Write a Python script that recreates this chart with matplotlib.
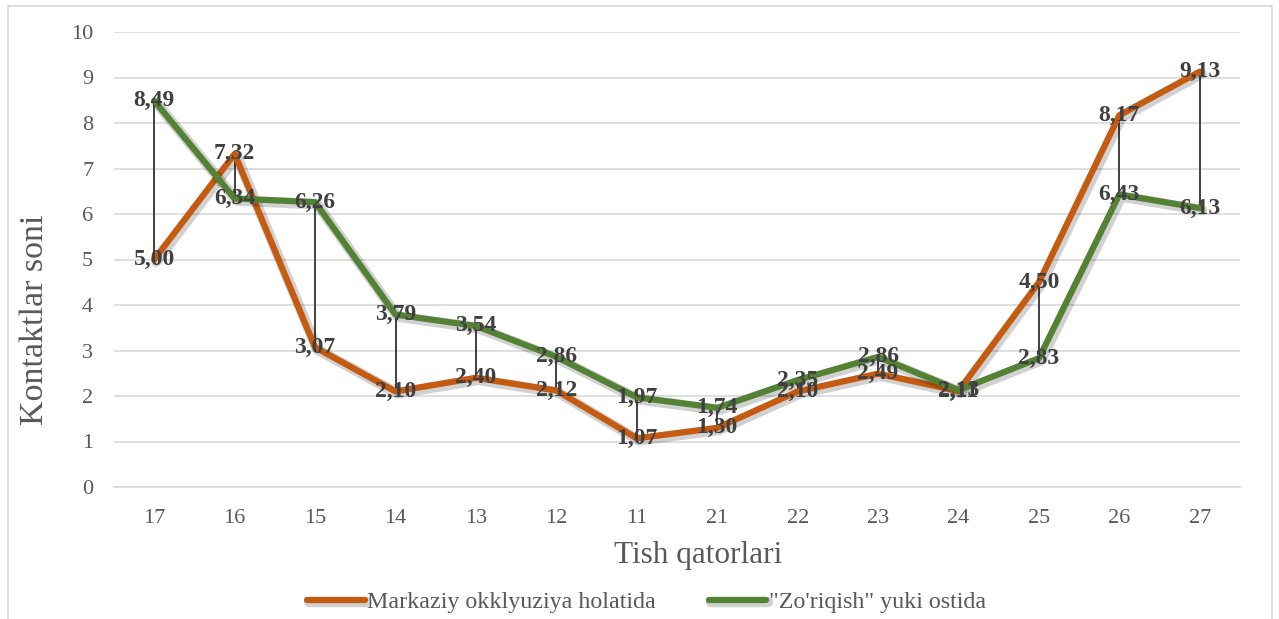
import matplotlib
matplotlib.use("Agg")
import matplotlib.pyplot as plt
import matplotlib.patheffects as pe
from matplotlib.patches import Rectangle

categories = ["17", "16", "15", "14", "13", "12", "11", "21", "22", "23", "24", "25", "26", "27"]
markaziy = [5.00, 7.32, 3.07, 2.10, 2.40, 2.12, 1.07, 1.30, 2.10, 2.49, 2.11, 4.50, 8.17, 9.13]
zoriqish = [8.49, 6.34, 6.26, 3.79, 3.54, 2.86, 1.97, 1.74, 2.35, 2.86, 2.13, 2.83, 6.43, 6.13]
series_names = ["Markaziy okklyuziya holatida", "\"Zo'riqish\" yuki ostida"]

plt.rcParams['font.family'] = ['Liberation Serif', 'DejaVu Serif']

W, H = 1279, 619
fig = plt.figure(figsize=(W / 100, H / 100), dpi=100)
fig.patches.append(Rectangle((8 / W, -0.05), (1272 - 8) / W, 1.05 - 6 / H,
                             transform=fig.transFigure, fill=False,
                             edgecolor='#D9D9D9', linewidth=1.2))

ax = fig.add_axes([114 / W, (H - 487) / H, (1240 - 114) / W, (487 - 32) / H])
x = list(range(len(categories)))

ax.set_ylim(0, 10)
ax.set_xlim(-0.5, len(categories) - 0.5)
ax.set_yticks(range(0, 11))
ax.grid(axis='y', color='#D9D9D9', linewidth=1.2)
ax.set_axisbelow(True)
for s in ['top', 'right', 'left']:
    ax.spines[s].set_visible(False)
ax.spines['bottom'].set_color('#D9D9D9')
ax.spines['bottom'].set_linewidth(1.2)
ax.tick_params(axis='both', length=0, labelsize=16, colors='#595959')
ax.tick_params(axis='x', pad=16)
ax.tick_params(axis='y', pad=15)
ax.set_xticks(x)
ax.set_xticklabels(categories)

# high-low lines
ax.vlines(x, [min(a, b) for a, b in zip(markaziy, zoriqish)],
          [max(a, b) for a, b in zip(markaziy, zoriqish)],
          colors='#404040', linewidth=1.4, zorder=2)

shadow = [pe.SimpleLineShadow(offset=(1.5, -1.5), shadow_color='black', alpha=0.18, linewidth=7.5),
          pe.Normal()]
ax.plot(x, markaziy, color='#C55A11', linewidth=4.5, label=series_names[0],
        path_effects=shadow, zorder=3, solid_capstyle='round', solid_joinstyle='round')
ax.plot(x, zoriqish, color='#548235', linewidth=4.5, label=series_names[1],
        path_effects=shadow, zorder=3, solid_capstyle='round', solid_joinstyle='round')

for xi, v in zip(x, markaziy):
    ax.text(xi, v, f"{v:.2f}".replace('.', ','), ha='center', va='center',
            fontsize=17, fontweight='bold', color='#404040', zorder=5)
for xi, v in zip(x, zoriqish):
    ax.text(xi, v, f"{v:.2f}".replace('.', ','), ha='center', va='center',
            fontsize=17, fontweight='bold', color='#404040', zorder=5)

fig.text(35 / W, 1 - 320 / H, "Kontaktlar soni", fontsize=24.5, color='#595959',
         rotation=90, ha='center', va='center')
fig.text(698 / W, 1 - 555 / H, "Tish qatorlari", fontsize=22.5,
         color='#595959', ha='center', va='center')

leg = fig.legend(loc='center', bbox_to_anchor=(646.5 / W, 1 - 602 / H), ncol=2,
                 frameon=False, fontsize=17.3, handlelength=2.4, handletextpad=0.1,
                 columnspacing=2.2, labelcolor='#595959')

fig.savefig("out.png", dpi=100)
